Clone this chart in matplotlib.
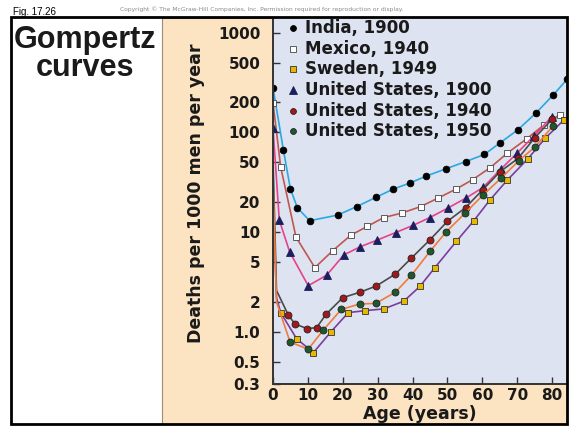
import matplotlib
matplotlib.use("Agg")
import matplotlib.pyplot as plt
from matplotlib.patches import Rectangle

# Data (age in years, deaths per 1000 men per year)
india_1900_age = [0, 3, 5, 7, 10.5, 18.5, 24, 29.5, 34.5, 39.2, 44, 49.5, 55.3, 60.6, 65, 70.2, 75.3, 80.3, 84.3]
india_1900_val = [280, 66, 27, 17.5, 13, 14.8, 18, 22.3, 27, 31, 36.5, 43, 51, 60, 78, 106, 155, 236, 340]

mexico_1940_age = [0, 2.2, 6.6, 12, 17.1, 22.3, 27, 31.8, 36.9, 42.3, 47.4, 52.5, 57.2, 62.2, 67.2, 72.7, 77.6, 82.2]
mexico_1940_val = [198, 45, 8.9, 4.4, 6.5, 9.3, 11.4, 14, 15.5, 18, 22, 27, 33.5, 44, 62, 86, 118, 150]

sweden_1949_age = [0, 1, 2.2, 6.8, 11.6, 16.6, 21.6, 26.4, 31.8, 37.5, 42.1, 46.4, 52.6, 57.5, 62.2, 67.1, 73, 78, 83.4]
sweden_1949_val = [25, 2.2, 1.56, 0.85, 0.62, 1.0, 1.56, 1.63, 1.7, 2.03, 2.85, 4.4, 8.1, 12.9, 21, 33, 54, 87, 133]

us_1900_age = [0, 1.8, 4.8, 10.1, 15.4, 20.3, 24.9, 29.8, 35.2, 40.2, 45, 50.1, 55.2, 60.2, 65.4, 70, 74.8, 79.9]
us_1900_val = [111, 13.2, 6.3, 2.9, 3.7, 5.9, 7.1, 8.3, 9.9, 11.7, 14, 17.4, 21.8, 28, 43, 62, 92, 143]

us_1940_age = [0, 1, 4.4, 6.3, 9.7, 12.5, 15.2, 20, 25, 29.6, 35.1, 39.7, 44.9, 50, 55.2, 60.1, 65, 70.3, 75, 80]
us_1940_val = [55, 2.6, 1.47, 1.2, 1.08, 1.1, 1.5, 2.2, 2.5, 2.88, 3.8, 5.5, 8.3, 12.8, 17.6, 26.5, 40, 55, 88, 135]

us_1950_age = [0, 1, 4.9, 10.1, 14.4, 19.6, 24.8, 29.5, 35.1, 39.7, 45, 49.7, 55, 60.2, 65.5, 70.5, 75, 80.2]
us_1950_val = [33, 2.0, 0.79, 0.67, 1.04, 1.68, 1.9, 1.93, 2.5, 3.7, 6.4, 10.1, 15.4, 23.5, 35, 52, 71, 115]

labels = ["India, 1900", "Mexico, 1940", "Sweden, 1949",
          "United States, 1900", "United States, 1940", "United States, 1950"]

y_ticks = [0.3, 0.5, 1, 2, 5, 10, 20, 50, 100, 200, 500, 1000]
y_tick_labels = ["0.3", "0.5", "1.0", "2", "5", "10", "20", "50", "100", "200", "500", "1000"]
x_ticks = [0, 10, 20, 30, 40, 50, 60, 70, 80]

W, H = 569, 426


def fx(px):
    return px / W


def fy(py):
    return 1 - py / H


fig = plt.figure(figsize=(W / 100, H / 100), dpi=100)
fig.patch.set_facecolor("white")

# beige panel behind the plot
fig.patches.append(Rectangle((fx(162), fy(424)), fx(567) - fx(162), fy(18) - fy(424),
                             transform=fig.transFigure, facecolor="#fce3c2",
                             edgecolor="#9c8c7a", lw=0.8, zorder=-1))
# outer black frame
fig.patches.append(Rectangle((fx(11), fy(424)), fx(567) - fx(11), fy(17) - fy(424),
                             transform=fig.transFigure, fill=False,
                             edgecolor="black", lw=2, zorder=10))

ax = fig.add_axes([fx(273), fy(384), fx(566) - fx(273), fy(18) - fy(384)])
ax.set_facecolor("#dde3f1")

series = [
    (india_1900_age, india_1900_val, "#2aa8e2", "o", "black", "black", 4.8, 0),
    (mexico_1940_age, mexico_1940_val, "#c0574e", "s", "white", "#444444", 4.2, 0),
    (sweden_1949_age, sweden_1949_val, "#7a3d9e", "s", "#e6b800", "#333333", 4.2, 2),
    (us_1900_age, us_1900_val, "#e8418a", "^", "#1b1f5e", "#1b1f5e", 6, 0),
    (us_1940_age, us_1940_val, "#4a4a4a", "o", "#a3191b", "#222222", 5, 2),
    (us_1950_age, us_1950_val, "#f27a3a", "o", "#1c5a2e", "#222222", 5, 2),
]

for age, val, lc, mk, mfc, mec, ms, skip in series:
    ax.plot(age, val, color=lc, lw=1.2, marker=mk, markerfacecolor=mfc,
            markeredgecolor=mec, markeredgewidth=0.6, markersize=ms,
            markevery=slice(skip, None), clip_on=True)

ax.set_yscale("log")
ax.set_xlim(0, 84)
ax.set_ylim(0.3, 1400)
ax.set_yticks(y_ticks)
ax.set_yticklabels(y_tick_labels)
ax.minorticks_off()
ax.set_xticks(x_ticks)

for s in ["top", "right"]:
    ax.spines[s].set_visible(False)
for s in ["left", "bottom"]:
    ax.spines[s].set_color("#333333")
    ax.spines[s].set_linewidth(1.4)

ax.tick_params(axis="both", direction="in", length=5, width=1, color="#333333",
               labelsize=11)
ax.tick_params(axis="y", pad=9)
ax.tick_params(axis="x", pad=3)
for t in ax.get_xticklabels() + ax.get_yticklabels():
    t.set_fontweight("bold")
    t.set_color("#1a1a1a")

ax.set_xlabel("Age (years)", fontsize=12.5, fontweight="bold", labelpad=1, color="#1a1a1a")
ax.set_ylabel("Deaths per 1000 men per year", fontsize=12.5, fontweight="bold",
              color="#1a1a1a")
ax.yaxis.set_label_coords(-0.232, 0.52)

# legend drawn as markers + text at the top left of the plot
for i, (lab, s) in enumerate(zip(labels, series)):
    yy = 0.972 - i * 0.0563
    ax.plot([0.067], [yy], transform=ax.transAxes, marker=s[3],
            markerfacecolor=s[4], markeredgecolor=s[5], markeredgewidth=0.6,
            markersize=4.2 if s[3] != "^" else 5.5, linestyle="none", clip_on=False)
    ax.text(0.108, yy, lab, transform=ax.transAxes, fontsize=12, fontweight="bold",
            va="center", ha="left", color="#1a1a1a")

fig.text(fx(85), fy(48), "Gompertz", ha="center", va="baseline",
         family="Liberation Sans", fontsize=22, fontweight="bold", color="#1a1a1a")
fig.text(fx(85), fy(76), "curves", ha="center", va="baseline",
         family="Liberation Sans", fontsize=22, fontweight="bold", color="#1a1a1a")
fig.text(fx(13), fy(15), "Fig. 17.26", family="Liberation Sans", fontsize=7,
         va="baseline", ha="left", color="black")
fig.text(fx(120), fy(9), "Copyright \u00a9 The McGraw-Hill Companies, Inc. Permission required for reproduction or display.",
         fontsize=4.3, color="#8a8a8a", va="center", ha="left")

fig.savefig("out.png", dpi=100)
